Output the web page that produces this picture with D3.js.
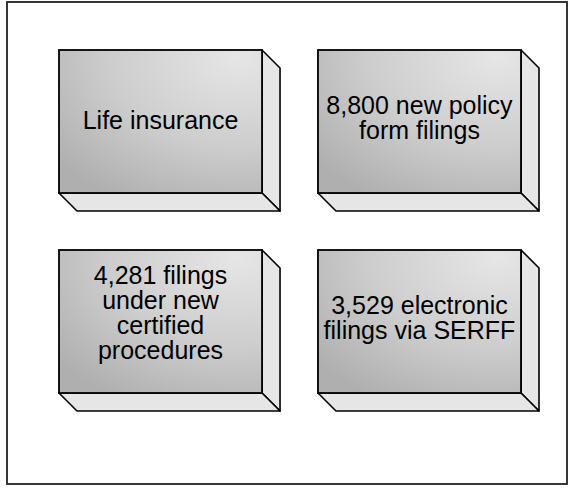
<!DOCTYPE html>
<html>
<head>
<meta charset="utf-8">
<script src="https://cdn.jsdelivr.net/npm/d3@7"></script>
<style>
  html, body { margin: 0; padding: 0; background: #fff; }
  svg { display: block; }
</style>
</head>
<body>
<svg id="chart" width="576" height="494"></svg>
<script>
// Four 3-D blocks summarising life-insurance filings
const columns = [0, 1];
const rows = [0, 1];
const blockText = [
  ["Life insurance"],
  ["8,800 new policy", "form filings"],
  ["4,281 filings", "under new", "certified", "procedures"],
  ["3,529 electronic", "filings via SERFF"]
];

const svg = d3.select("#chart");

// frame
svg.append("rect")
  .attr("x", 7).attr("y", 2)
  .attr("width", 560).attr("height", 482)
  .attr("fill", "#fff")
  .attr("stroke", "#222")
  .attr("stroke-width", 1.8);

const x = d3.scaleBand().domain(columns).range([59, 521]).paddingInner(0.216);
const y = d3.scaleBand().domain(rows).range([50, 393]).paddingInner(0.285);
const depth = 18;

// shading of the front faces
const defs = svg.append("defs");
const grad = defs.append("radialGradient")
  .attr("id", "faceShade")
  .attr("cx", "0.88").attr("cy", "0.05").attr("r", "1.15")
  .attr("fx", "0.88").attr("fy", "0.05");
grad.append("stop").attr("offset", "0").attr("stop-color", "#e6e6e6");
grad.append("stop").attr("offset", "0.55").attr("stop-color", "#cdcdcd");
grad.append("stop").attr("offset", "1").attr("stop-color", "#afafaf");

const cells = blockText.map((lines, i) => ({ lines, col: i % 2, row: Math.floor(i / 2) }));

const g = svg.selectAll("g.block").data(cells).join("g").attr("class", "block");

// right side
g.append("path")
  .attr("d", d => {
    const x0 = x(d.col), y0 = y(d.row), w = x.bandwidth(), h = y.bandwidth();
    return `M${x0 + w},${y0}L${x0 + w + depth},${y0 + depth}L${x0 + w + depth},${y0 + h + depth}L${x0 + w},${y0 + h}Z`;
  })
  .attr("fill", "#e6e6e6")
  .attr("stroke", "#000").attr("stroke-width", 1.6).attr("stroke-linejoin", "round");

// bottom side
g.append("path")
  .attr("d", d => {
    const x0 = x(d.col), y0 = y(d.row), w = x.bandwidth(), h = y.bandwidth();
    return `M${x0},${y0 + h}L${x0 + w},${y0 + h}L${x0 + w + depth},${y0 + h + depth}L${x0 + depth},${y0 + h + depth}Z`;
  })
  .attr("fill", "#e6e6e6")
  .attr("stroke", "#000").attr("stroke-width", 1.6).attr("stroke-linejoin", "round");

// front face
g.append("rect")
  .attr("x", d => x(d.col)).attr("y", d => y(d.row))
  .attr("width", x.bandwidth()).attr("height", y.bandwidth())
  .attr("fill", "url(#faceShade)")
  .attr("stroke", "#000").attr("stroke-width", 1.8);

// labels
const lineH = 25;
g.append("text")
  .attr("font-family", "Liberation Sans, Arial, sans-serif")
  .attr("font-size", 25)
  .attr("fill", "#000")
  .attr("text-anchor", "middle")
  .each(function (d) {
    const cx = x(d.col) + x.bandwidth() / 2;
    const cy = y(d.row) + y.bandwidth() / 2;
    const n = d.lines.length;
    const first = cy + 9.5 - 2.5 * n - (n - 1) * lineH / 2;
    d3.select(this).selectAll("tspan").data(d.lines).join("tspan")
      .attr("x", cx)
      .attr("y", (t, i) => first + i * lineH)
      .text(t => t);
  });
</script>
</body>
</html>
